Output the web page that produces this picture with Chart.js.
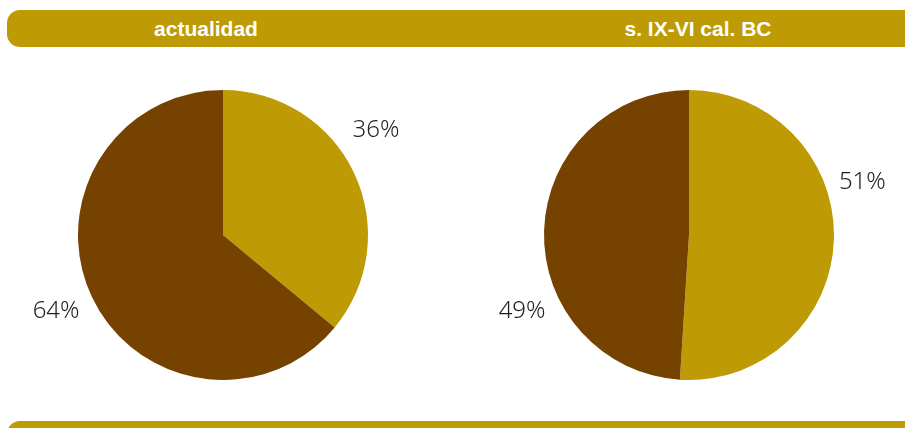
<!DOCTYPE html>
<html>
<head>
<meta charset="utf-8">
<script src="https://cdn.jsdelivr.net/npm/chart.js@4/dist/chart.umd.min.js"></script>
<style>
  html,body{margin:0;padding:0;background:#fff;width:905px;height:428px;overflow:hidden;position:relative;}
  .bar{position:absolute;left:7px;width:910px;background:#BE9A05;border-radius:13px;}
  #top{top:10px;height:37px;}
  #bottom{top:421px;height:30px;}
  .hd{position:absolute;top:10px;height:37px;line-height:37px;color:#fff;font-family:"Liberation Sans Narrow","Liberation Sans",sans-serif;font-weight:bold;font-size:21px;white-space:nowrap;transform:translateX(-50%);}
  canvas{position:absolute;}
</style>
</head>
<body>
<div class="bar" id="top"></div>
<div class="bar" id="bottom"></div>
<div class="hd" id="t1" style="left:206px"></div>
<div class="hd" id="t2" style="left:698px"></div>
<div style="position:absolute;left:0;top:50px;width:450px;height:370px"><canvas id="c1"></canvas></div>
<div style="position:absolute;left:455px;top:50px;width:450px;height:370px"><canvas id="c2"></canvas></div>
<script>
const titles = ["actualidad", "s. IX-VI cal. BC"];
const categories = ["oro", "marrón"];
const valuesActual = [36, 64];
const valuesAncient = [51, 49];
const colors = ["#BE9A05", "#764200"];

document.getElementById('t1').textContent = titles[0];
document.getElementById('t2').textContent = titles[1];

const labelPlugin = {
  id: 'pctLabels',
  afterDatasetsDraw(chart, args, opts) {
    const ctx = chart.ctx;
    const meta = chart.getDatasetMeta(0);
    const data = chart.data.datasets[0].data;
    ctx.save();
    ctx.font = '300 24px "Noto Sans", "Open Sans", sans-serif';
    ctx.fillStyle = '#1f1f1f';
    ctx.textAlign = 'center';
    ctx.textBaseline = 'middle';
    meta.data.forEach((arc, i) => {
      const ang = (opts.angles[i]) * Math.PI / 180; // clockwise from top
      const d = arc.outerRadius * opts.dist[i];
      const x = arc.x + Math.sin(ang) * d;
      const y = arc.y - Math.cos(ang) * d;
      ctx.fillText(data[i] + '%', x, y);
    });
    ctx.restore();
  }
};

function makePie(id, values, pad, angles, dist) {
  return new Chart(document.getElementById(id), {
    type: 'pie',
    data: { labels: categories, datasets: [{ data: values, backgroundColor: colors, borderWidth: 0 }] },
    options: {
      responsive: true, maintainAspectRatio: false, animation: false,
      layout: { padding: pad },
      plugins: { legend: { display: false }, tooltip: { enabled: false }, pctLabels: { angles, dist } }
    },
    plugins: [labelPlugin]
  });
}
makePie('c1', valuesActual, { left: 78, right: 82, top: 40, bottom: 40 }, [55.5, 245.5], [1.28, 1.265]);
makePie('c2', valuesAncient, { left: 89, right: 71, top: 40, bottom: 40 }, [73, 245.5], [1.25, 1.265]);
</script>
</body>
</html>
